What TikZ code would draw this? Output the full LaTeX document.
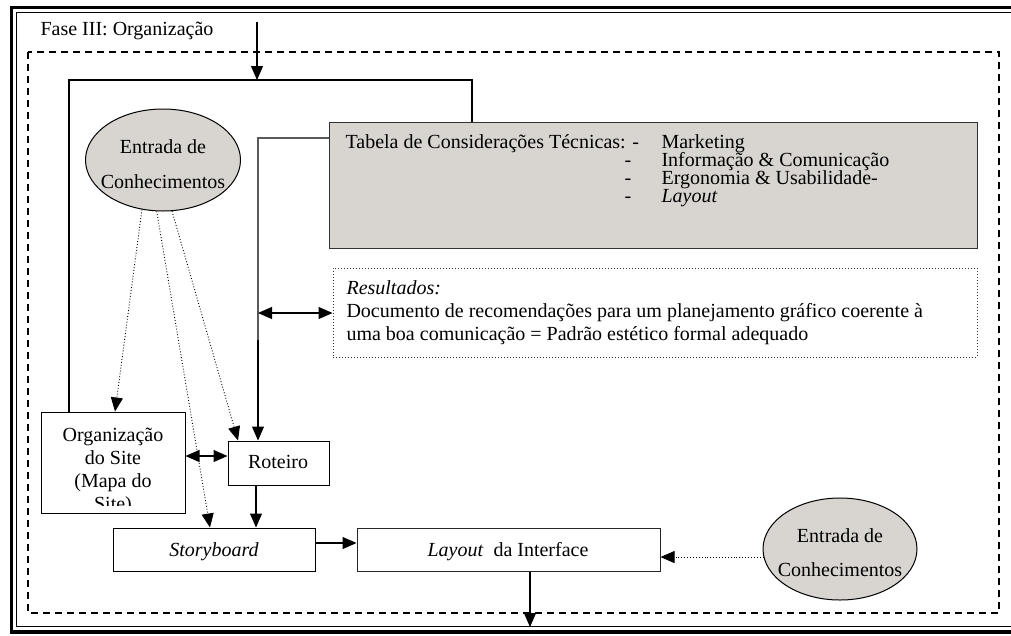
\documentclass[tikz,border=0pt]{standalone}
\usepackage{fontspec}
\setmainfont{Liberation Serif}
\usetikzlibrary{arrows.meta,shapes.geometric}
\definecolor{boxgrey}{RGB}{216,212,208}
\definecolor{edgegrey}{RGB}{90,90,90}
\begin{document}
\fontsize{20}{22}\selectfont
\begin{tikzpicture}[x=1pt,y=-1pt,
  line width=1.1pt,
  tri/.tip={Triangle[length=14pt,width=12pt]},
  arr/.style={-tri},
  darr/.style={tri-tri},
  dots/.style={dotted,line width=0.9pt,-tri},
  box/.style={draw,rectangle,inner sep=0pt,line width=1pt},
  greybox/.style={box,fill=boxgrey,draw=black!80},
  oval/.style={draw,ellipse,fill=boxgrey,inner sep=0pt,line width=1pt},
  txt/.style={inner sep=0pt,anchor=base},
  txtw/.style={inner sep=0pt,anchor=base west},
]
\useasboundingbox (0,0) rectangle (1011,635);

% double page frame and dashed phase boundary
\begin{scope}
  \clip (0,0) rectangle (1011,635);
  \draw[line width=3.5pt] (11.5,7.5) rectangle (1025,632);
  \draw[line width=1pt] (16,12) rectangle (1020,626);
\end{scope}
\draw[line width=1.5pt,dash pattern=on 7pt off 5pt] (28,52) rectangle (999,613);

\node[txtw] (title) at (40,35) {Fase III: Organização};

% main blocks
\node[greybox,minimum width=648pt,minimum height=126pt] (tab) at (653,185) {};
\node[box,dotted,draw=black!80,minimum width=644pt,minimum height=89pt] (res) at (655,312.5) {};
\node[box,minimum width=144pt,minimum height=101pt] (org) at (113,462.5) {};
\node[box,minimum width=101pt,minimum height=44pt] (rot) at (278.5,463) {};
\node[box,minimum width=202pt,minimum height=43pt] (sb) at (214,549.5) {};
\node[box,draw=black!85,minimum width=303pt,minimum height=43pt] (lay) at (508.5,549.5) {};
\node[oval,minimum width=155pt,minimum height=102pt] (ent1) at (163,160) {};
\node[oval,minimum width=154pt,minimum height=102pt] (ent2) at (840,549) {};

% texts
\node[txtw] (tabA) at (345,148) {Tabela de Considerações Técnicas: -};
\node[txtw] (tabB) at (624,166) {-};
\node[txtw] (tabC) at (624,184) {-};
\node[txtw] (tabD) at (624,202) {-};
\node[txtw] (it1) at (661,148) {Marketing};
\node[txtw] (it2) at (661,166) {Informação \& Comunicação};
\node[txtw] (it3) at (661,184) {Ergonomia \& Usabilidade-};
\node[txtw] (it4) at (661,202) {\textit{Layout}};

\node[txtw] (resA) at (346,294) {\textit{Resultados:}};
\node[txtw] (resB) at (346,317) {Documento de recomendações para um planejamento gráfico coerente à};
\node[txtw] (resC) at (346,340) {uma boa comunicação = Padrão estético formal adequado};

\begin{scope}
  \clip (42,413) rectangle (184,505);
  \node[txt] (orgA) at (113,441) {Organização};
  \node[txt] (orgB) at (113,464) {do Site};
  \node[txt] (orgC) at (113,487) {(Mapa do};
  \node[txt] (orgD) at (113,510) {Site)};
\end{scope}

\node[txt] (rotT) at (278,468) {Roteiro};
\node[txt] (sbT) at (214,556) {\textit{Storyboard}};
\node[txt] (layT) at (508,556) {\textit{Layout}\ \ da Interface};

\node[txt] (e1A) at (163,153) {Entrada de};
\node[txt] (e1B) at (163,188) {Conhecimentos};
\node[txt] (e2A) at (840,542) {Entrada de};
\node[txt] (e2B) at (840,576) {Conhecimentos};

% connectors
\coordinate (in) at (257,22);
\coordinate (lpL) at (69,80);
\coordinate (lpR) at (472,80);
\coordinate (lpM) at (257,80);
\draw (69,0 |- org.north) -- (lpL) -- (lpR) -- (472,0 |- tab.north);
\draw[arr] (in) -- (lpM);

\coordinate (bend) at (258,138);
\coordinate (join) at (258,340);
\draw[edgegrey] (tab.west |- bend) -- (bend) -- (join);
\draw[arr] (join) -- (258,0 |- rot.north);
\draw[darr] (258,313) -- (res.west |- 0,313);

\draw[darr] (org.east |- 0,456) -- (rot.west |- 0,456);
\draw[arr] (256,0 |- rot.south) -- (256,0 |- sb.north);
\draw[arr] (sb.east |- 0,543) -- (lay.west |- 0,543);
\coordinate (out) at (530,627);
\draw[arr] (530,0 |- lay.south) -- (out);

\draw[dots] (ent1.247) -- (115,0 |- org.north);
\draw[dots] (ent1.263) -- (210,0 |- sb.north);
\draw[dots] (ent1.280) -- (238,0 |- rot.north);
\draw[dots] (ent2.186) -- (lay.east |- ent2.186);
\end{tikzpicture}
\end{document}
